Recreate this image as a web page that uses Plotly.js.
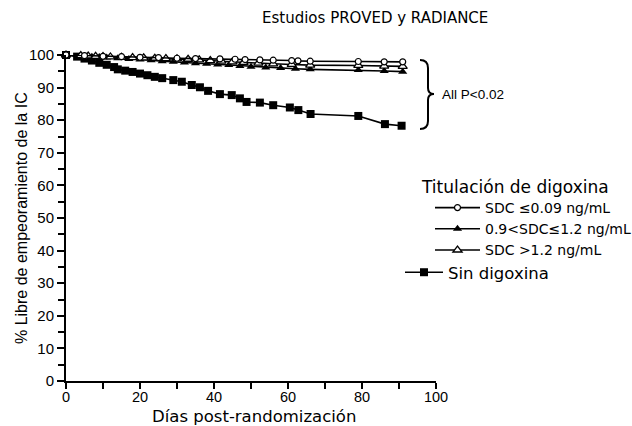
<!DOCTYPE html>
<html>
<head>
<meta charset="utf-8">
<script src="https://cdn.plot.ly/plotly-3.0.1.min.js"></script>
<style>html,body{margin:0;padding:0;background:#fff;}#chart{width:632px;height:426px;}</style>
</head>
<body>
<div id="chart"></div>
<script>
// ---- Data ----
var daysNone = [0, 3, 5, 7, 9, 11, 13, 14, 16, 18, 20, 22, 24, 26, 29, 31.3, 34, 36.2, 38.4, 41.6, 44.8, 47, 48.8, 52.4, 56, 60.5, 62.8, 66.1, 79, 86.2, 90.7];
var valsNone = [100, 99.5, 98.9, 98.3, 97.6, 97, 96.3, 95.6, 95.2, 94.8, 94.3, 93.8, 93.3, 92.9, 92.3, 91.8, 90.8, 90.1, 89.0, 88.0, 87.7, 86.7, 85.6, 85.4, 84.6, 83.9, 83.1, 81.9, 81.3, 78.8, 78.3];

var daysLow = [0, 5, 10, 15, 20, 25, 30, 35, 41.6, 45.7, 48.4, 52.4, 56, 61, 62.7, 66, 79, 86, 91];
var valsLow = [100, 99.8, 99.6, 99.5, 99.3, 99.2, 99.0, 98.9, 98.8, 98.7, 98.6, 98.5, 98.4, 98.3, 98.2, 98.1, 98.0, 97.9, 97.9];

var daysMid = [0, 5, 7, 9, 11, 14, 17, 20, 23, 26, 29, 32, 35, 38, 41, 44, 47, 50, 54, 58, 62, 66, 79, 86, 91];
var valsMid = [100, 99.7, 99.5, 99.4, 99.2, 99.0, 98.8, 98.6, 98.4, 98.1, 97.9, 97.7, 97.5, 97.3, 97.1, 96.9, 96.6, 96.4, 96.2, 96.0, 95.8, 95.6, 95.4, 95.1, 94.9];

var daysHigh = [0, 4, 6, 8, 10, 12, 15, 18, 21, 24, 27, 30, 33, 36, 39, 42, 45, 48, 52, 56, 61, 66, 79, 86, 91];
var valsHigh = [100, 99.8, 99.7, 99.6, 99.5, 99.4, 99.3, 99.2, 99.1, 99.0, 98.9, 98.8, 98.7, 98.5, 98.3, 98.1, 97.9, 97.7, 97.5, 97.3, 97.1, 96.9, 96.8, 96.6, 96.5];

var seriesNames = ['SDC \u22640.09 ng/mL', '0.9<SDC\u22641.2 ng/mL', 'SDC >1.2 ng/mL', 'Sin digoxina'];
var titleText = 'Estudios PROVED y RADIANCE';
var xTitle = 'D\u00edas post-randomizaci\u00f3n';
var yTitle = '% Libre de empeoramiento de la IC';
var legendTitle = 'Titulaci\u00f3n de digoxina';
var pText = 'All P<0.02';
var tickVals = [0, 20, 40, 60, 80, 100];
var yTickVals = [0, 10, 20, 30, 40, 50, 60, 70, 80, 90, 100];

// ---- Layout helpers (pixel -> paper) ----
var L = 66, R = 436, T = 55, B = 381;
function px(x) { return (x - L) / (R - L); }
function py(y) { return (B - y) / (B - T); }

var FONT = 'Liberation Sans, Arial, Helvetica, sans-serif';
var WIDE = 'DejaVu Sans, Liberation Sans, sans-serif';

var traces = [
  {x: daysNone, y: valsNone, name: seriesNames[3], mode: 'lines+markers', legend: 'legend2',
   line: {color: '#000', width: 1.6}, marker: {symbol: 'square', size: 8, color: '#000'}, cliponaxis: false},
  {x: daysMid, y: valsMid, name: seriesNames[1], mode: 'lines+markers', legendrank: 2,
   line: {color: '#000', width: 1.6}, marker: {symbol: 'triangle-up', size: 8, color: '#000'}, cliponaxis: false},
  {x: daysHigh, y: valsHigh, name: seriesNames[2], mode: 'lines+markers', legendrank: 3,
   line: {color: '#000', width: 1.6}, marker: {symbol: 'triangle-up', size: 8, color: '#fff', line: {color: '#000', width: 1.3}}, cliponaxis: false},
  {x: daysLow, y: valsLow, name: seriesNames[0], mode: 'lines+markers', legendrank: 1,
   line: {color: '#000', width: 1.6}, marker: {symbol: 'circle', size: 6, color: '#fff', line: {color: '#000', width: 1.2}}, cliponaxis: false}
];

var bracePath = 'M ' + px(420) + ' ' + py(60) +
  ' Q ' + px(428) + ' ' + py(60) + ' ' + px(428) + ' ' + py(68) +
  ' L ' + px(428) + ' ' + py(88) +
  ' Q ' + px(428) + ' ' + py(94) + ' ' + px(434) + ' ' + py(94) +
  ' Q ' + px(428) + ' ' + py(94) + ' ' + px(428) + ' ' + py(100) +
  ' L ' + px(428) + ' ' + py(121) +
  ' Q ' + px(428) + ' ' + py(129) + ' ' + px(420) + ' ' + py(129);

var layout = {
  width: 632, height: 426,
  margin: {l: L, r: 632 - R, t: T, b: 426 - B, pad: 0, autoexpand: false},
  paper_bgcolor: '#fff', plot_bgcolor: '#fff',
  font: {family: FONT, color: '#000', size: 14},
  showlegend: true,
  xaxis: {range: [0, 100], tickvals: tickVals, showgrid: false, zeroline: false,
    showline: true, linecolor: '#000', linewidth: 2, ticks: 'outside', ticklen: 6, tickwidth: 2, tickcolor: '#000',
    ticklabelstandoff: -4,
    minor: {dtick: 10, ticks: 'outside', ticklen: 6, tickwidth: 2, tickcolor: '#000', showgrid: false},
    tickfont: {size: 14.5, family: FONT}, fixedrange: true, automargin: false},
  yaxis: {range: [0, 100], tickvals: yTickVals, showgrid: false, zeroline: false,
    showline: true, linecolor: '#000', linewidth: 2, ticks: 'outside', ticklen: 7, tickwidth: 2, tickcolor: '#000',
    minor: {dtick: 5, ticks: 'outside', ticklen: 6, tickwidth: 2, tickcolor: '#000', showgrid: false},
    tickfont: {size: 15, family: FONT}, fixedrange: true, automargin: false},
  legend: {x: px(430), y: py(192), xanchor: 'left', yanchor: 'top', bgcolor: 'rgba(0,0,0,0)',
    borderwidth: 0, itemwidth: 45, font: {size: 14, family: WIDE}, traceorder: 'normal', itemclick: false},
  legend2: {x: px(400), y: py(255), xanchor: 'left', yanchor: 'top', bgcolor: 'rgba(0,0,0,0)',
    borderwidth: 0, itemwidth: 38, font: {size: 16.5, family: WIDE}, itemclick: false},
  shapes: [{type: 'path', xref: 'paper', yref: 'paper', path: bracePath, line: {color: '#000', width: 2}}],
  annotations: [
    {text: titleText, xref: 'paper', yref: 'paper', x: px(375), y: py(18), xanchor: 'center', yanchor: 'middle', showarrow: false, font: {size: 15, family: WIDE}},
    {text: xTitle, xref: 'paper', yref: 'paper', x: px(254), y: py(428), xanchor: 'center', yanchor: 'bottom', showarrow: false, font: {size: 16.5, family: WIDE}},
    {text: yTitle, xref: 'paper', yref: 'paper', x: px(21), y: py(218), xanchor: 'center', yanchor: 'middle', textangle: -90, showarrow: false, font: {size: 16, family: FONT}},
    {text: legendTitle, xref: 'paper', yref: 'paper', x: px(419), y: py(187), xanchor: 'left', yanchor: 'middle', showarrow: false, font: {size: 17, family: WIDE}},
    {text: pText, xref: 'paper', yref: 'paper', x: px(440), y: py(95), xanchor: 'left', yanchor: 'middle', showarrow: false, font: {size: 13.5, family: FONT}}
  ]
};

Plotly.newPlot('chart', traces, layout, {displayModeBar: false, staticPlot: true});
</script>
</body>
</html>
